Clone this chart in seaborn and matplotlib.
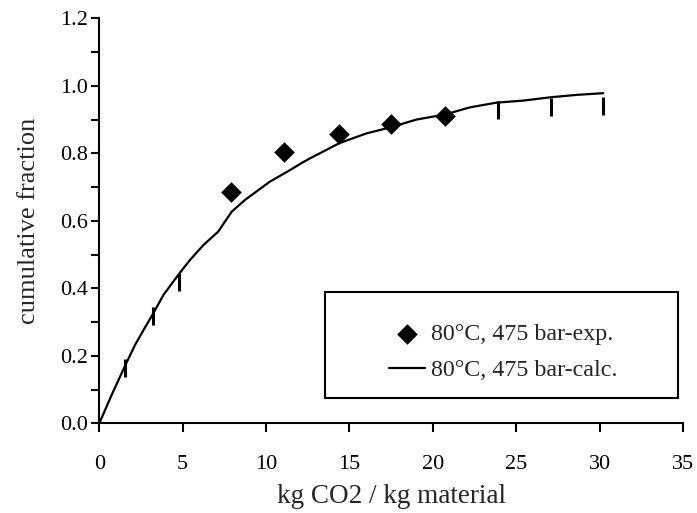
import matplotlib
matplotlib.use("Agg")
import matplotlib.pyplot as plt
import seaborn as sns
import numpy as np
import pandas as pd
from matplotlib.patches import Rectangle
from matplotlib.ticker import MultipleLocator

# experimental points (diamonds)
exp_x = [7.9, 11.1, 14.4, 17.5, 20.7]
exp_y = [0.686, 0.805, 0.858, 0.886, 0.911]

# additional vertical-bar marks (not in legend)
bar_x = [1.55, 3.24, 4.80, 23.9, 27.1, 30.2]
bar_y = [0.165, 0.319, 0.420, 0.928, 0.938, 0.941]

# calculated curve
calc_x = [0, 0.74, 1.54, 2.14, 2.74, 3.24, 3.84, 4.80, 5.44, 6.24, 7.13, 7.94,
          8.74, 10.23, 11.43, 12.03, 12.63, 13.23, 14.39, 16.03, 17.47, 19.03,
          20.74, 22.22, 23.82, 25.42, 27.08, 28.62, 30.22]
calc_y = [0, 0.084, 0.170, 0.232, 0.284, 0.326, 0.380, 0.444, 0.484, 0.528,
          0.568, 0.627, 0.662, 0.716, 0.750, 0.768, 0.785, 0.800, 0.830, 0.859,
          0.877, 0.900, 0.915, 0.936, 0.950, 0.956, 0.966, 0.973, 0.978]

label_exp = "80°C, 475 bar-exp."
label_calc = "80°C, 475 bar-calc."
xlabel = "kg CO2 / kg material"
ylabel = "cumulative fraction"

sns.set_style("ticks")
plt.rcParams["font.family"] = ["Liberation Serif", "DejaVu Serif"]

fig = plt.figure(figsize=(6.97, 5.13), dpi=100)
ax = fig.add_axes([0.1425, 0.1749, 0.8374, 0.7895])

sns.lineplot(x=calc_x, y=calc_y, ax=ax, color="black", linewidth=1.6,
             label=label_calc, sort=False, estimator=None)
sns.scatterplot(x=exp_x, y=exp_y, ax=ax, marker="D", s=110, color="black",
                edgecolor="black", linewidth=0, label=label_exp, zorder=3)
sns.scatterplot(x=bar_x, y=bar_y, ax=ax, marker="|", s=160, color="black",
                linewidth=2.2, legend=False, zorder=3)

ax.set_xlim(0, 35)
ax.set_ylim(0, 1.2)
ax.xaxis.set_major_locator(MultipleLocator(5))
ax.yaxis.set_major_locator(MultipleLocator(0.2))
ax.yaxis.set_minor_locator(MultipleLocator(0.1))
ax.set_yticklabels([f"{v:.1f}" for v in ax.get_yticks()])
ax.set_ylim(0, 1.2)

for s in ["top", "right"]:
    ax.spines[s].set_visible(False)
for s in ["left", "bottom"]:
    ax.spines[s].set_linewidth(1.5)
    ax.spines[s].set_color("black")

ax.tick_params(axis="x", which="major", direction="out", length=6.5, width=1.5,
               labelsize=16, pad=16.5, colors="black")
ax.tick_params(axis="y", which="both", direction="out", length=5.5, width=1.5,
               labelsize=16, pad=3, colors="black")

ax.set_xlabel(xlabel, fontsize=19.5, labelpad=7)
ax.set_ylabel(ylabel, fontsize=19, labelpad=14)

# legend box
ax.add_patch(Rectangle((0.387, 0.0625), 0.604, 0.2615, transform=ax.transAxes,
                       fill=True, facecolor="white", edgecolor="black",
                       linewidth=1.5, zorder=4, clip_on=False))
h, l = ax.get_legend_handles_labels()
order = [l.index(label_exp), l.index(label_calc)]
leg = ax.legend([h[i] for i in order], [l[i] for i in order],
                loc="center", bbox_to_anchor=(0.692, 0.175),
                frameon=False, fontsize=17.3, handlelength=1.5,
                handletextpad=0.22, labelspacing=0.6, borderpad=0)
leg.set_zorder(5)

fig.savefig("out.png", dpi=100)
